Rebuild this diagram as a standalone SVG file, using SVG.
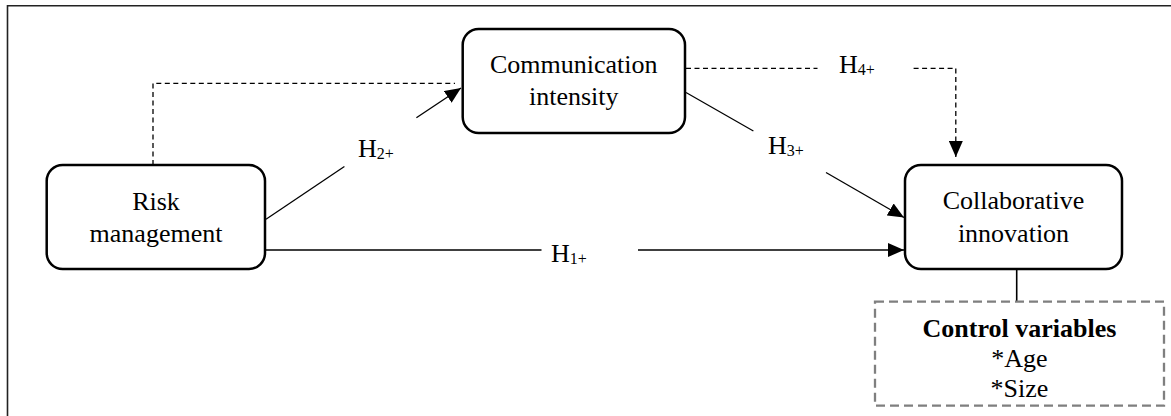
<svg xmlns="http://www.w3.org/2000/svg" width="1171" height="416" viewBox="0 0 1171 416">
<style>
.box{fill:#fff;stroke:#000;stroke-width:2.5}
.ctrl{fill:#fff;stroke:#7f7f7f;stroke-width:2.3;stroke-dasharray:9 5}
.t{font-family:"Liberation Serif","Times New Roman",serif;font-size:26px;fill:#000}
.tb{font-family:"Liberation Serif","Times New Roman",serif;font-size:26px;font-weight:bold;fill:#000}
.sub{font-size:16px}
.ln{fill:none;stroke:#000;stroke-width:1.3}
.dash{fill:none;stroke:#000;stroke-width:1.3;stroke-dasharray:5 3.5}
</style>
<defs>
<marker id="ah" markerUnits="userSpaceOnUse" markerWidth="16" markerHeight="14" refX="16" refY="7" orient="auto">
<path d="M0,0 L16,7 L0,14 z" fill="#000"/>
</marker>
</defs>
<path d="M7.5,416 V5.8 H1171" fill="none" stroke="#222" stroke-width="1.6"/>
<g id="connectors">
<path class="dash" d="M153,165 V83.3 H455"/>
<line class="ln" x1="266" y1="219.3" x2="344.4" y2="166.5"/>
<line class="ln" x1="416.4" y1="117.8" x2="461" y2="88" marker-end="url(#ah)"/>
<line class="ln" x1="686" y1="92.5" x2="753.4" y2="131"/>
<line class="ln" x1="826" y1="172.5" x2="904" y2="217.5" marker-end="url(#ah)"/>
<line class="ln" x1="265" y1="250" x2="541.5" y2="250"/>
<line class="ln" x1="638" y1="250" x2="904" y2="250" marker-end="url(#ah)"/>
<path class="dash" d="M686,68.3 H817.5"/>
<path class="dash" d="M913.6,68.3 H955.8 V157" marker-end="url(#ah)"/>
<line x1="1016.7" y1="269" x2="1016.7" y2="301.7" stroke="#000" stroke-width="1.6"/>
</g>
<g id="labels">
<text class="t" x="551" y="262">H<tspan class="sub" dy="2">1+</tspan></text>
<text class="t" x="358" y="157">H<tspan class="sub" dy="2">2+</tspan></text>
<text class="t" x="768" y="154">H<tspan class="sub" dy="2">3+</tspan></text>
<text class="t" x="839" y="73.3">H<tspan class="sub" dy="2">4+</tspan></text>
</g>
<g id="risk">
<rect class="box" x="46.7" y="165" width="218.3" height="104" rx="16"/>
<text class="t" x="156" y="210" text-anchor="middle">Risk</text>
<text class="t" x="156" y="241.7" text-anchor="middle">management</text>
</g>
<g id="communication">
<rect class="box" x="462.7" y="29" width="222.3" height="104" rx="16"/>
<text class="t" x="573.8" y="72.7" text-anchor="middle">Communication</text>
<text class="t" x="573.8" y="105" text-anchor="middle">intensity</text>
</g>
<g id="collaborative">
<rect class="box" x="905" y="165" width="217" height="104" rx="16"/>
<text class="t" x="1013.5" y="209.3" text-anchor="middle">Collaborative</text>
<text class="t" x="1013.5" y="241.7" text-anchor="middle">innovation</text>
</g>
<g id="control">
<rect class="ctrl" x="875" y="301.7" width="289" height="104"/>
<text class="tb" x="1019.5" y="336.7" text-anchor="middle">Control variables</text>
<text class="t" x="1019.5" y="366.7" text-anchor="middle">*Age</text>
<text class="t" x="1019.5" y="397" text-anchor="middle">*Size</text>
</g>
</svg>
